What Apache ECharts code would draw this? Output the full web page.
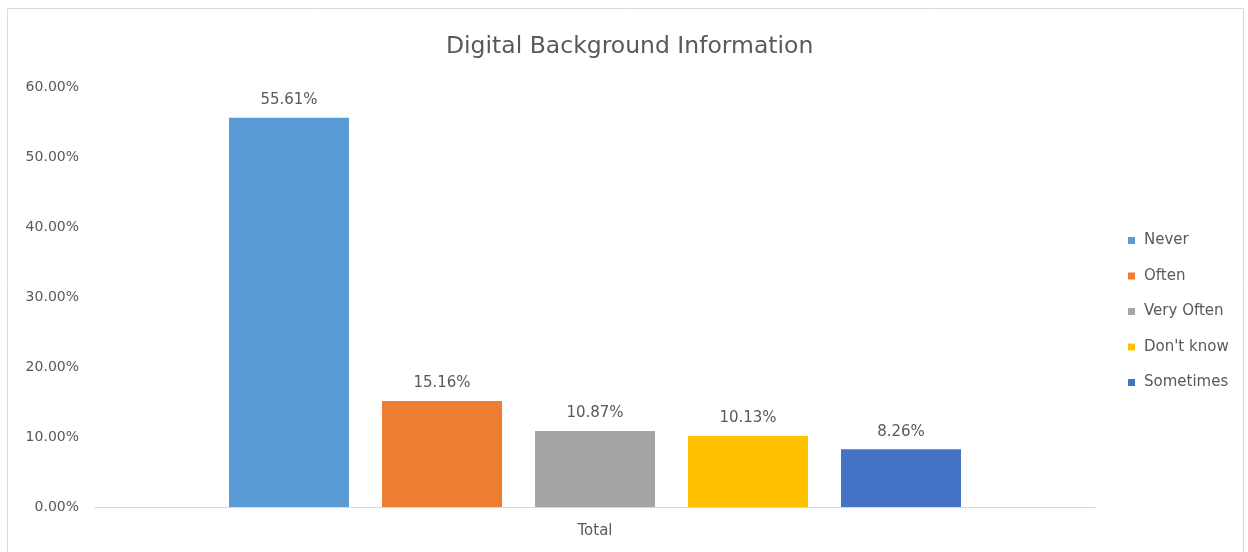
<!DOCTYPE html>
<html>
<head>
<meta charset="utf-8">
<script src="https://cdn.jsdelivr.net/npm/echarts@6/dist/echarts.min.js"></script>
<style>
  html, body { margin: 0; padding: 0; background: #ffffff; }
  #chart { width: 1248px; height: 552px; }
</style>
</head>
<body>
<div id="chart"></div>
<script>
// Survey answers, share of respondents (%)
const categories = ['Total'];
const seriesNames = ['Never', 'Often', 'Very Often', "Don't know", 'Sometimes'];
const seriesValues = [55.61, 15.16, 10.87, 10.13, 8.26];
const seriesColors = ['#5B9BD5', '#ED7D31', '#A5A5A5', '#FFC000', '#4472C4'];
const yTicks = { min: 0, max: 60, interval: 10 };

const fontFamily = '"DejaVu Sans", sans-serif';
const textColor = '#595959';

const chart = echarts.init(document.getElementById('chart'), null, { renderer: 'canvas' });

const series = seriesNames.map((name, i) => ({
  name: name,
  type: 'bar',
  data: [seriesValues[i]],
  barWidth: 120,
  barGap: '27.5%',
  itemStyle: { color: seriesColors[i] },
  label: {
    show: true,
    position: 'top',
    distance: 10,
    color: textColor,
    fontFamily: fontFamily,
    fontSize: 15,
    formatter: p => p.value.toFixed(2) + '%'
  }
}));

chart.setOption({
  backgroundColor: '#ffffff',
  animation: false,
  title: {
    text: 'Digital Background Information',
    left: 441,
    top: 30,
    textStyle: { color: textColor, fontFamily: fontFamily, fontSize: 23.5, fontWeight: 'normal' }
  },
  legend: {
    orient: 'vertical',
    left: 1123,
    top: 228,
    itemWidth: 7,
    itemHeight: 7,
    itemGap: 20.5,
    icon: 'rect',
    textStyle: { color: textColor, fontFamily: fontFamily, fontSize: 15, padding: [0, 0, 0, 4] },
    data: seriesNames
  },
  grid: { left: 95, right: 153, top: 87, bottom: 45, containLabel: false },
  xAxis: {
    type: 'category',
    data: categories,
    axisLine: { lineStyle: { color: '#d9d9d9', width: 1 } },
    axisTick: { show: false },
    axisLabel: { color: textColor, fontFamily: fontFamily, fontSize: 15, margin: 17 }
  },
  yAxis: {
    type: 'value',
    min: yTicks.min,
    max: yTicks.max,
    interval: yTicks.interval,
    axisLine: { show: false },
    axisTick: { show: false },
    splitLine: { show: false },
    axisLabel: {
      color: textColor,
      fontFamily: fontFamily,
      fontSize: 14,
      margin: 16,
      formatter: v => v.toFixed(2) + '%'
    }
  },
  graphic: [{
    type: 'rect',
    shape: { x: 7.5, y: 8.5, width: 1236, height: 560 },
    style: { fill: 'none', stroke: '#d9d9d9', lineWidth: 1 },
    silent: true
  }],
  series: series
});
</script>
</body>
</html>
